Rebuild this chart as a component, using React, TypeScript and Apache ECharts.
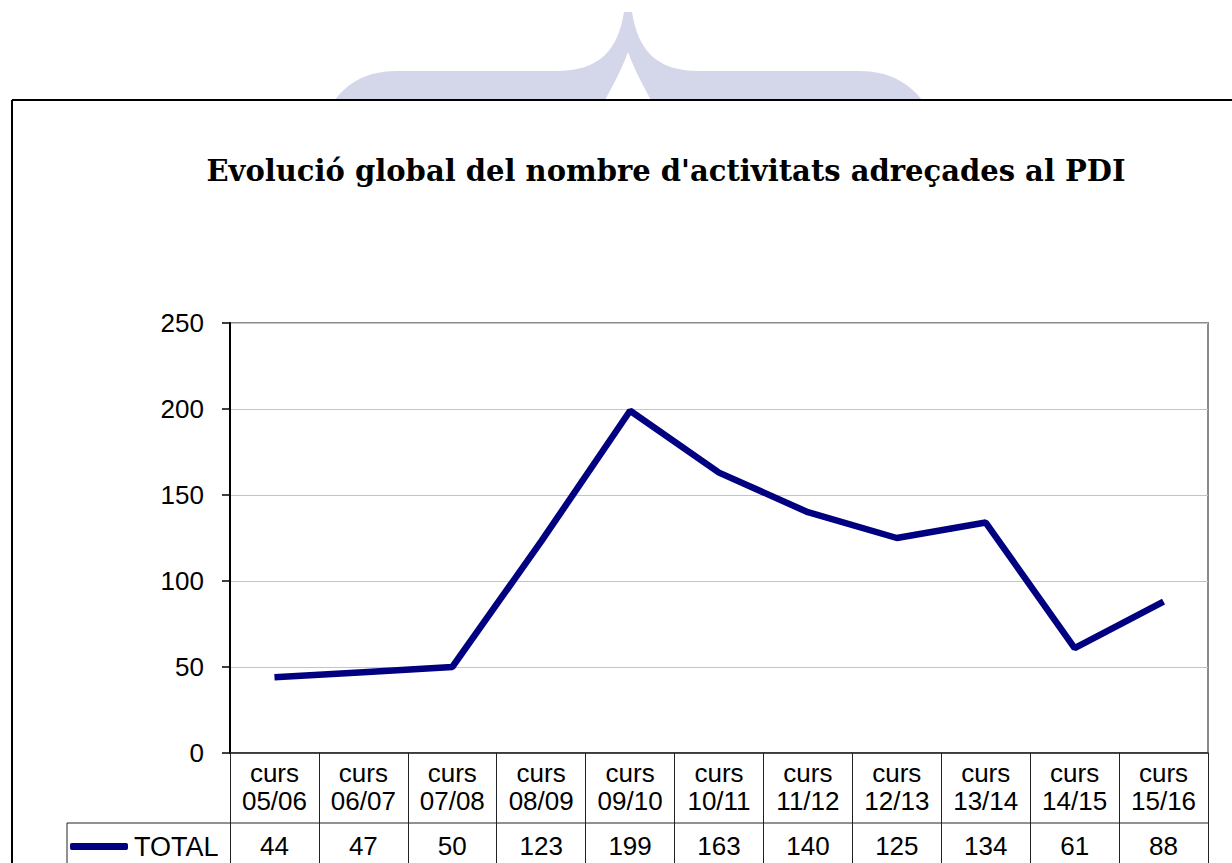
import React, { useEffect, useRef } from "react";
import * as echarts from "echarts";

const titleText = "Evolució global del nombre d'activitats adreçades al PDI";
const categories = [
  "curs 05/06",
  "curs 06/07",
  "curs 07/08",
  "curs 08/09",
  "curs 09/10",
  "curs 10/11",
  "curs 11/12",
  "curs 12/13",
  "curs 13/14",
  "curs 14/15",
  "curs 15/16",
];
const seriesName = "TOTAL";
const totals = [44, 47, 50, 123, 199, 163, 140, 125, 134, 61, 88];
const yMin = 0;
const yMax = 250;
const yInterval = 50;

const WATERMARK_D =
  "M335,100 C348,82 368,71 397,71 L556,71 C600,71 618,50 624,12 L632,12 C638,50 656,71 699,71 L859,71 C888,71 908,82 922,100 L651,100 C640,80 633,66 628,52 C623,66 616,80 605,100 Z";

echarts.graphic.registerShape(
  "watermark",
  echarts.graphic.extendPath(WATERMARK_D, {}) as any
);

const FONT = "'Liberation Sans', Arial, sans-serif";

export default function App() {
  const ref = useRef<HTMLDivElement>(null);
  useEffect(() => {
    if (!ref.current) return;
    const chart = echarts.init(ref.current, undefined, { renderer: "svg" });
    chart.setOption({
      animation: false,
      backgroundColor: "#ffffff",
      grid: {
        left: 230,
        right: 24,
        top: 323,
        bottom: 110,
        show: true,
        borderColor: "#8a8a8a",
        borderWidth: 2,
      },
      legend: {
        data: [seriesName],
        left: 70,
        top: 833,
        padding: 0,
        icon: "roundRect",
        itemWidth: 58,
        itemHeight: 7,
        itemGap: 4,
        textStyle: { fontFamily: FONT, fontSize: 27, color: "#000", padding: [0, 0, 0, 1] },
      },
      xAxis: [
        {
          type: "category",
          data: categories,
          position: "bottom",
          boundaryGap: true,
          axisLine: { show: true, lineStyle: { color: "#222", width: 1.5 } },
          axisTick: {
            show: true,
            alignWithLabel: false,
            interval: 0,
            length: 110,
            lineStyle: { color: "#222", width: 1 },
          },
          axisLabel: {
            interval: 0,
            margin: 6,
            fontFamily: FONT,
            fontSize: 26,
            lineHeight: 28,
            color: "#000",
            formatter: (v: string) => v.replace(" ", "\n"),
          },
          splitLine: { show: false },
        },
        {
          type: "category",
          data: totals.map((v) => String(v)),
          position: "bottom",
          offset: 70,
          boundaryGap: true,
          axisLine: { show: false },
          axisTick: { show: false },
          axisLabel: {
            interval: 0,
            margin: 10,
            fontFamily: FONT,
            fontSize: 26,
            color: "#000",
          },
        },
      ],
      yAxis: {
        type: "value",
        min: yMin,
        max: yMax,
        interval: yInterval,
        axisLine: { show: true, lineStyle: { color: "#000", width: 2 } },
        axisTick: { show: true, length: 8, lineStyle: { color: "#000", width: 1.5 } },
        axisLabel: {
          margin: 26,
          fontFamily: FONT,
          fontSize: 26,
          color: "#000",
        },
        splitLine: { show: true, lineStyle: { color: "#c4c4c4", width: 1 } },
      },
      series: [
        {
          name: seriesName,
          type: "line",
          data: totals,
          xAxisIndex: 0,
          symbol: "none",
          lineStyle: { color: "#000080", width: 6.5 },
          itemStyle: { color: "#000080" },
          z: 5,
        },
      ],
      graphic: [
        {
          type: "watermark",
          x: 0,
          y: 0,
          z: -10,
          silent: true,
          style: { fill: "#d4d6ea" },
        },
        {
          type: "line",
          z: 1,
          shape: { x1: 12, y1: 100, x2: 1232, y2: 100 },
          style: { stroke: "#000", lineWidth: 2 },
        },
        {
          type: "line",
          z: 1,
          shape: { x1: 12, y1: 100, x2: 12, y2: 863 },
          style: { stroke: "#000", lineWidth: 2 },
        },
        {
          type: "line",
          z: 10,
          shape: { x1: 67, y1: 823, x2: 1208, y2: 823 },
          style: { stroke: "#222", lineWidth: 1 },
        },
        {
          type: "line",
          z: 10,
          shape: { x1: 67, y1: 823, x2: 67, y2: 863 },
          style: { stroke: "#222", lineWidth: 1 },
        },
        {
          type: "text",
          z: 10,
          x: 666,
          y: 171,
          style: {
            text: titleText,
            fontFamily: "'DejaVu Serif', serif",
            fontWeight: "bold",
            fontSize: 29,
            fill: "#000",
            align: "center",
            verticalAlign: "middle",
          },
        },
      ],
    });
    return () => chart.dispose();
  }, []);
  return (
    <div
      ref={ref}
      style={{ position: "fixed", left: 0, top: 0, width: 1232, height: 863 }}
    />
  );
}
